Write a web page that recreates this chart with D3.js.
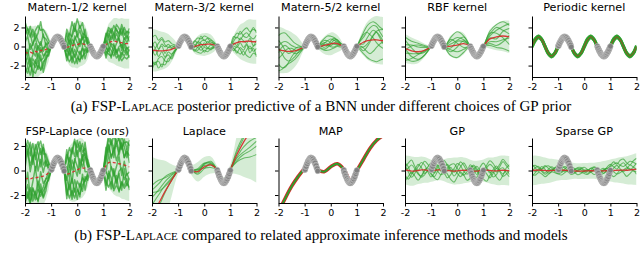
<!DOCTYPE html>
<html>
<head>
<meta charset="utf-8">
<script src="https://cdn.jsdelivr.net/npm/d3@7"></script>
<style>
  body { margin: 0; background: #fff; }
  svg { display: block; }
</style>
</head>
<body>
<svg id="chart"></svg>
<script>
var width = 640,
    height = 257

// x grids the curves are given on
var xFine = [-2,-1.9,-1.8,-1.7,-1.6,-1.5,-1.4,-1.3,-1.2,-1.1,-1,-0.9,-0.8,-0.7,-0.6,-0.5,-0.4,-0.3,-0.2,-0.1,0,0.1,0.2,0.3,0.4,0.5,0.6,0.7,0.8,0.9,1,1.1,1.2,1.3,1.4,1.5,1.6,1.7,1.8,1.9,2]
var xMid = [-2,-1.875,-1.75,-1.625,-1.5,-1.375,-1.25,-1.125,-1,-0.875,-0.75,-0.625,-0.5,-0.375,-0.25,-0.125,0,0.125,0.25,0.375,0.5,0.625,0.75,0.875,1,1.125,1.25,1.375,1.5,1.625,1.75,1.875,2]
var xCoarse = [-2,-1.75,-1.5,-1.25,-1,-0.75,-0.5,-0.25,0,0.25,0.5,0.75,1,1.25,1.5,1.75,2]

// training data (gray)
var dataX = [-1,-0.98,-0.96,-0.94,-0.92,-0.9,-0.88,-0.86,-0.84,-0.82,-0.8,-0.78,-0.76,-0.74,-0.72,-0.7,-0.68,-0.66,-0.64,-0.62,-0.6,-0.58,-0.56,-0.54,-0.52,-0.5,
             0.5,0.52,0.54,0.56,0.58,0.6,0.62,0.64,0.66,0.68,0.7,0.72,0.74,0.76,0.78,0.8,0.82,0.84,0.86,0.88,0.9,0.92,0.94,0.96,0.98,1]
var dataY = [0.05,0.08,0.3,0.33,0.52,0.55,0.72,0.74,0.88,0.86,1.0,0.93,1.05,0.95,1.02,0.9,0.95,0.8,0.8,0.65,0.62,0.44,0.4,0.2,0.16,-0.04,
             0.03,-0.15,-0.22,-0.4,-0.46,-0.6,-0.66,-0.8,-0.82,-0.93,-0.92,-1.02,-0.97,-1.04,-0.96,-0.97,-0.88,-0.86,-0.74,-0.7,-0.56,-0.5,-0.34,-0.27,-0.1,0.02]

var titlesTop = ["Matern-1/2 kernel", "Matern-3/2 kernel", "Matern-5/2 kernel", "RBF kernel", "Periodic kernel"]
var titlesBottom = ["FSP-Laplace (ours)", "Laplace", "MAP", "GP", "Sparse GP"]
var xTicks = [-2, -1, 0, 1, 2]
var yTicks = [-2, 0, 2]

// ---- Matern-1/2 ----
var m12Mean = [-0.6,-0.7,-0.6,-0.7,-0.5,-0.6,-0.4,-0.5,-0.3,-0.2, 0,0.55,0.9,0.9,0.55,0, -0.1,0,0.1,0.2,0.2,0.3,0.3,0.2,0.1, 0,-0.55,-0.9,-0.9,-0.55,0, 0.2,0.4,0.5,0.6,0.5,0.4,0.4,0.3,0.3,0.3]
var m12Band = [2.8,2.8,2.8,2.8,2.7,2.6,2.5,2.3,2.0,1.4, 0.3,0.3,0.3,0.3,0.3,0.3, 1.4,2.0,2.3,2.4,2.5,2.4,2.3,2.0,1.4, 0.3,0.3,0.3,0.3,0.3,0.3, 1.4,2.0,2.2,2.4,2.5,2.5,2.6,2.6,2.6,2.6]
var m12Samples = [
  [2.5,1.9,2.7,1.7,2.2,2.8,2.1,2.3,1.6,0.9, 0,0.1,0,-0.1,0,0, 0.7,1.4,0.9,1.7,1.2,1.9,1.1,1.0,0.4, 0,-0.1,0,0.1,0,0, 0.8,1.3,0.9,1.6,1.2,1.0,1.5,0.9,1.3,1.1],
  [-1.6,-2.1,-1.2,-1.9,-2.3,-1.4,-2.0,-1.1,-1.0,-0.6, 0,0,0.1,0,-0.1,0, -0.9,-1.6,-1.2,-2.0,-1.4,-1.7,-1.3,-0.9,-0.5, 0,0,-0.1,0,0.1,0, -0.7,-1.2,-1.5,-1.0,-1.7,-1.3,-1.9,-1.4,-1.6,-1.2],
  [0.6,-0.3,0.9,0.2,-0.5,0.7,-0.2,0.4,0.3,-0.2, 0.1,0,0,0.1,0,0, 0.3,-0.4,0.7,0.1,-0.6,0.5,-0.2,0.5,0.1, 0,0.1,0,0,-0.1,0, 0.4,-0.3,0.7,0.0,0.9,0.3,-0.5,0.6,0.1,0.8],
  [-0.7,0.4,-1.1,-0.2,0.8,-0.9,0.3,-0.5,-0.4,0.2, 0,0,-0.1,0,0,0.1, -0.4,0.6,-0.8,0.9,0.2,-0.3,1.0,-0.2,-0.3, 0,0,0,0.1,0,0, -0.5,0.6,-0.4,-1.0,-0.2,0.5,-0.8,0.2,-0.6,-0.3],
  [3.2,2.4,1.6,2.5,1.3,2.0,3.0,1.5,1.1,0.5, 0,0.1,0,0,0,0, 1.9,1.0,2.5,1.4,2.7,1.6,2.2,0.8,0.8, 0,0,0,0,0,0, 1.2,0.6,1.4,0.7,1.8,1.5,0.8,1.7,1.0,1.6],
  [-2.3,-1.4,-2.4,-1.0,-1.7,-0.9,-2.1,-1.5,-0.6,-0.8, 0,0,0,0,0,0, -1.4,-0.5,-1.8,-1.0,-2.0,-0.8,-1.6,-0.4,-0.7, 0,0,0,0,0,0, -1.1,-0.4,-0.9,-1.6,-0.8,-1.9,-1.0,-1.3,-0.7,-1.5],
  [1.0,1.8,0.3,1.0,1.4,0.2,0.9,0.0,0.7,0.1, 0,0,0.1,0,0,0, 0.2,0.9,0.1,0.5,1.1,0.0,0.6,0.8,0.2, 0,0,0,-0.1,0,0, 0.3,1.0,0.2,0.8,0.1,0.6,1.2,0.4,0.9,0.2],
  [-1.1,-0.4,-1.5,-0.6,-1.3,-0.1,-1.1,-0.7,-0.2,-0.4, 0,0,0,0,0,0, -0.2,-0.9,-0.3,-1.3,-0.6,-1.1,-0.5,-0.7,-0.2, 0,0,0,0,0,0, -0.3,-0.9,-0.2,-0.5,-1.1,-0.4,-0.2,-0.9,-0.4,-0.8],
  [1.8,2.6,2.0,0.8,1.9,1.2,0.5,1.8,0.4,0.6, 0,0,0,0,0,0, 1.5,0.3,1.2,2.2,0.8,1.4,0.4,1.6,0.2, 0,0,0,0,0,0, 0.9,1.6,1.1,0.3,1.4,0.7,1.9,1.2,0.5,1.3],
  [-0.2,-1.3,-0.6,-2.5,-0.9,-1.8,-0.5,-2.2,-1.2,-0.1, 0,0,0,0,0,0, -1.0,-0.2,-1.4,-0.5,-1.2,-1.9,-0.3,-1.5,-0.4, 0,0,0,0,0,0, -1.4,-0.6,-1.7,-0.3,-1.3,-0.6,-1.5,-0.1,-1.2,-0.6]
]

// ---- Matern-3/2 ----
var m32Mean = [-0.4,-0.42,-0.45,-0.45,-0.42,-0.38,-0.3,-0.15, 0,0.7,1.0,0.7,0, 0.0,0.1,0.2,0.2,0.25,0.25,0.15, 0,-0.7,-1.0,-0.7,0, 0.25,0.4,0.5,0.5,0.55,0.55,0.5,0.5]
var m32Band = [2.2,2.2,2.1,2.0,1.9,1.7,1.3,0.8, 0.12,0.12,0.12,0.12,0.12, 0.7,1.0,1.15,1.2,1.15,1.0,0.7, 0.12,0.12,0.12,0.12,0.12, 0.9,1.4,1.8,2.0,2.2,2.3,2.3,2.3]
var m32Samples = [
  [1.3,1.6,1.1,1.4,0.9,1.0,0.6,0.3, 0,0,0,0,0, 0.5,0.8,0.6,0.9,0.7,0.5,0.3, 0,0,0,0,0, 0.6,1.0,0.8,1.2,1.4,1.0,1.3,1.1],
  [-1.6,-1.2,-1.8,-1.4,-1.5,-0.9,-0.8,-0.4, 0,0,0,0,0, -0.4,-0.7,-0.9,-0.6,-0.8,-0.5,-0.3, 0,0,0,0,0, -0.5,-0.9,-1.3,-1.0,-1.5,-1.7,-1.2,-1.4],
  [0.5,0.9,0.2,0.7,0.4,0.6,0.2,0.2, 0,0,0,0,0, 0.2,-0.2,0.3,0.5,0.1,0.4,0.1, 0,0,0,0,0, 0.3,0.6,0.2,0.7,0.9,0.5,0.3,0.7],
  [-0.4,0.2,-0.6,-0.1,-0.7,-0.2,-0.5,-0.2, 0,0,0,0,0, -0.1,0.3,-0.3,0.2,-0.4,-0.1,-0.2, 0,0,0,0,0, -0.2,-0.5,-0.1,-0.6,-0.3,-0.8,-0.5,-0.2],
  [0.9,0.3,0.8,1.2,0.6,0.3,0.4,0.1, 0,0,0,0,0, 0.6,0.3,0.9,0.4,0.6,0.2,0.2, 0,0,0,0,0, 0.8,0.5,1.1,0.6,0.4,0.8,1.5,0.9],
  [-1.0,-1.5,-0.8,-0.6,-1.1,-1.2,-0.6,-0.3, 0,0,0,0,0, -0.3,-0.5,-0.2,-0.8,-0.4,-0.6,-0.2, 0,0,0,0,0, -0.7,-0.4,-0.8,-1.4,-0.9,-0.5,-1.0,-0.7],
  [0.2,-0.5,0.1,0.5,-0.3,0.3,0.1,0.0, 0,0,0,0,0, 0.0,0.4,0.1,-0.2,0.3,0.0,0.1, 0,0,0,0,0, 0.1,-0.3,0.4,0.1,-0.2,0.3,-0.4,0.2],
  [-2.0,-1.3,-1.1,-1.7,-0.8,-0.5,-1.0,-0.4, 0,0,0,0,0, -0.5,-0.2,-0.6,-0.3,-0.5,-0.4,-0.2, 0,0,0,0,0, -0.4,-1.1,-0.6,-0.9,-0.4,-1.2,-0.7,-1.6]
]

// ---- Matern-5/2 ----
var m52Mean = [-0.35,-0.4,-0.48,-0.52,-0.5,-0.45,-0.35,-0.2, 0,0.7,1.0,0.7,0, 0.05,0.12,0.2,0.28,0.35,0.3,0.15, 0,-0.7,-1.0,-0.7,0, 0.25,0.45,0.6,0.65,0.7,0.7,0.65,0.6]
var m52Band = [2.4,2.4,2.3,2.2,2.0,1.7,1.3,0.7, 0.12,0.12,0.12,0.12,0.12, 0.6,0.9,1.1,1.2,1.1,0.9,0.6, 0.12,0.12,0.12,0.12,0.12, 0.8,1.4,1.9,2.2,2.4,2.5,2.5,2.5]
var m52Samples = [
  [1.5,1.8,1.9,1.6,1.2,0.8,0.5,0.2, 0,0,0,0,0, 0.4,0.7,0.9,0.8,0.6,0.4,0.2, 0,0,0,0,0, 0.5,1.0,1.5,1.8,1.9,1.7,1.4,1.2],
  [-2.2,-2.0,-1.6,-1.3,-1.1,-0.9,-0.6,-0.3, 0,0,0,0,0, -0.3,-0.5,-0.6,-0.6,-0.5,-0.3,-0.2, 0,0,0,0,0, -0.6,-1.2,-1.7,-2.0,-2.2,-2.3,-2.1,-1.9],
  [0.4,0.8,1.0,0.9,0.6,0.4,0.2,0.1, 0,0,0,0,0, 0.2,0.1,-0.1,-0.2,0.0,0.2,0.1, 0,0,0,0,0, -0.3,-0.5,-0.4,0.0,0.5,0.9,1.1,1.2],
  [-0.9,-0.5,0.0,0.3,0.3,0.1,-0.1,-0.1, 0,0,0,0,0, -0.1,0.2,0.4,0.5,0.3,0.1,0.0, 0,0,0,0,0, 0.4,0.8,0.9,0.6,0.2,-0.3,-0.6,-0.8],
  [0.2,-0.3,-0.8,-1.0,-0.9,-0.6,-0.3,-0.1, 0,0,0,0,0, 0.3,0.5,0.4,0.1,-0.1,-0.1,0.0, 0,0,0,0,0, -0.2,-0.6,-1.1,-1.4,-1.2,-0.8,-0.4,-0.1],
  [1.0,0.6,0.1,-0.2,-0.1,0.2,0.3,0.2, 0,0,0,0,0, -0.2,-0.4,-0.3,0.0,0.3,0.4,0.2, 0,0,0,0,0, 0.3,0.5,0.9,1.3,1.5,1.4,0.9,0.4],
  [-1.5,-1.8,-1.7,-1.2,-0.6,-0.2,0.0,0.0, 0,0,0,0,0, 0.0,-0.2,-0.1,0.3,0.5,0.3,0.1, 0,0,0,0,0, 0.0,-0.2,0.2,0.7,1.0,0.8,0.3,-0.3],
  [-0.3,0.3,0.6,0.4,0.0,-0.3,-0.3,-0.2, 0,0,0,0,0, 0.1,0.3,0.1,-0.3,-0.4,-0.2,-0.1, 0,0,0,0,0, -0.4,-0.9,-0.7,-0.2,0.4,0.8,0.5,0.0]
]

// ---- RBF ----
var rbfMean = [-0.2,-0.45,-0.55,-0.4, 0,1.0,0, 0.05,0.15,0.3, 0,-1.0,0, 0.8,1.0,1.1,1.0]
var rbfBand = [1.5,1.4,1.2,0.7, 0.1,0.1,0.1, 1.1,1.4,1.1, 0.1,0.1,0.1, 1.0,1.4,1.6,1.7]
var rbfSamples = [
  [1.2,1.0,0.9,0.5, 0,0,0, 0.9,1.4,0.8, 0,0,0, 0.8,1.3,1.5,1.2],
  [-1.0,-1.1,-0.9,-0.5, 0,0,0, -1.0,-1.3,-0.9, 0,0,0, -0.7,-1.1,-1.3,-1.5],
  [0.4,0.6,0.5,0.3, 0,0,0, 0.5,0.8,0.4, 0,0,0, 0.3,0.7,1.0,1.4],
  [-0.5,-0.3,-0.2,-0.1, 0,0,0, -0.4,-0.7,-0.6, 0,0,0, -0.3,-0.5,-0.4,-0.1],
  [0.9,0.3,-0.2,-0.2, 0,0,0, 0.2,0.5,0.7, 0,0,0, 0.6,0.4,-0.2,-0.8],
  [-0.2,0.5,0.7,0.4, 0,0,0, -0.6,-0.2,0.3, 0,0,0, -0.5,-0.9,-0.6,0.2],
  [0.0,-0.6,-0.8,-0.5, 0,0,0, 0.7,0.2,-0.4, 0,0,0, 0.5,1.0,0.6,0.3],
  [-1.3,-0.8,-0.3,0.0, 0,0,0, -0.2,0.4,0.2, 0,0,0, 0.1,-0.2,0.5,0.9]
]

// ---- Periodic ----
var perMean = [0,0.7,1.0,0.7,0,-0.7,-1.0,-0.7, 0,0.7,1.0,0.7,0,-0.7,-1.0,-0.7, 0,0.7,1.0,0.7,0,-0.7,-1.0,-0.7, 0,0.7,1.0,0.7,0,-0.7,-1.0,-0.7, 0]
var perBand = [0.25,0.25,0.25,0.25,0.25,0.25,0.25,0.25,0.25,0.25,0.25,0.25,0.25,0.25,0.25,0.25,0.25,0.25,0.25,0.25,0.25,0.25,0.25,0.25,0.25,0.25,0.25,0.25,0.25,0.25,0.25,0.25,0.25]
var perSamples = [
  [0.06,0.09,0.1,0.07,0.04,0.02,0.01,0.03, 0.06,0.09,0.1,0.07,0.04,0.02,0.01,0.03, 0.06,0.09,0.1,0.07,0.04,0.02,0.01,0.03, 0.06,0.09,0.1,0.07,0.04,0.02,0.01,0.03, 0.06],
  [-0.04,-0.02,0.0,-0.03,-0.06,-0.08,-0.09,-0.07, -0.04,-0.02,0.0,-0.03,-0.06,-0.08,-0.09,-0.07, -0.04,-0.02,0.0,-0.03,-0.06,-0.08,-0.09,-0.07, -0.04,-0.02,0.0,-0.03,-0.06,-0.08,-0.09,-0.07, -0.04],
  [0.1,0.12,0.08,0.03,-0.02,-0.05,-0.04,0.03, 0.1,0.12,0.08,0.03,-0.02,-0.05,-0.04,0.03, 0.1,0.12,0.08,0.03,-0.02,-0.05,-0.04,0.03, 0.1,0.12,0.08,0.03,-0.02,-0.05,-0.04,0.03, 0.1],
  [-0.08,-0.1,-0.07,-0.02,0.03,0.06,0.05,-0.02, -0.08,-0.1,-0.07,-0.02,0.03,0.06,0.05,-0.02, -0.08,-0.1,-0.07,-0.02,0.03,0.06,0.05,-0.02, -0.08,-0.1,-0.07,-0.02,0.03,0.06,0.05,-0.02, -0.08]
]

// ---- FSP-Laplace ----
var fspMean = [-0.7,-0.65,-0.7,-0.6,-0.6,-0.55,-0.5,-0.45,-0.35,-0.2, 0,0.55,0.9,0.9,0.55,0, -0.3,-0.25,-0.15,-0.05,0.05,0.15,0.2,0.2,0.1, 0,-0.55,-0.9,-0.9,-0.55,0, 0.4,0.65,0.7,0.65,0.6,0.55,0.5,0.45,0.35,0.3]
var fspBand = [2.8,2.8,2.8,2.8,2.8,2.7,2.6,2.4,2.0,1.4, 0.3,0.3,0.3,0.3,0.3,0.3, 1.6,2.2,2.4,2.5,2.5,2.5,2.4,2.1,1.4, 0.3,0.3,0.3,0.3,0.3,0.3, 1.5,2.1,2.4,2.6,2.7,2.7,2.8,2.8,2.8,2.8]
var fspSamples = [
  [2.8,2.0,3.0,1.6,2.4,2.9,1.8,2.3,1.4,0.8, 0,0.1,0,-0.1,0,0.05, 1.2,2.1,1.5,2.4,1.8,2.2,1.3,1.6,0.6, 0,-0.1,0,0.1,0,0, 1.0,1.9,1.4,2.2,1.6,2.1,1.3,1.8,2.0,1.7],
  [-1.7,-1.1,-1.9,-1.3,-1.8,-1.0,-1.6,-1.2,-0.9,-0.5, 0,0,0.1,0,-0.1,0, -1.2,-2.0,-1.5,-2.2,-1.6,-2.1,-1.4,-1.0,-0.5, 0,0,-0.1,0,0.1,0, -1.3,-2.0,-1.6,-2.3,-1.8,-2.2,-1.5,-1.9,-1.4,-1.7],
  [0.9,2.2,1.1,1.8,0.6,1.5,2.3,0.9,1.2,0.4, 0.1,0,0,0.1,0,0, 0.6,-0.3,1.0,0.3,-0.5,0.8,0.1,0.9,0.2, 0,0.1,0,0,-0.1,0, 0.5,1.4,0.4,1.0,1.6,0.7,1.8,0.6,1.2,0.9],
  [-0.8,0.5,-1.3,-0.3,0.9,-1.1,0.4,-0.6,-0.4,0.1, 0,0,-0.1,0,0,0.1, -0.5,0.7,-0.9,1.0,0.3,-0.4,1.1,-0.3,-0.2, 0,0,0,0.1,0,0, -0.6,0.7,-0.5,-1.1,-0.3,0.6,-0.9,0.3,-0.7,-0.4],
  [3.0,2.6,1.9,2.8,1.5,2.5,2.9,1.8,1.7,0.9, 0,0.1,0,0,0,0, 1.6,1.0,2.0,1.2,2.4,1.4,2.0,0.9,0.8, 0,0,0,0,0,0, 1.5,0.8,1.8,1.1,2.3,1.9,1.2,2.1,1.4,2.2],
  [-1.9,-1.4,-2.0,-0.9,-1.5,-1.9,-1.1,-1.7,-0.7,-0.6, 0,0,0,0,0,0, -1.7,-0.9,-2.2,-1.4,-2.4,-1.2,-1.9,-0.7,-0.9, 0,0,0,0,0,0, -1.6,-0.7,-1.3,-2.1,-1.0,-2.3,-1.4,-1.7,-1.0,-1.9],
  [1.5,2.4,0.6,1.6,2.1,0.5,1.4,0.3,1.1,0.3, 0,0,0.1,0,0,0, 0.3,1.3,0.2,0.8,1.6,0.1,0.9,1.2,0.3, 0,0,0,-0.1,0,0, 0.4,1.5,0.3,1.2,0.2,1.0,1.7,0.6,1.4,0.3],
  [-1.2,-0.5,-1.7,-0.8,-1.4,-0.3,-1.3,-0.9,-0.3,-0.4, 0,0,0,0,0,0, -0.4,-1.3,-0.5,-1.7,-0.9,-1.5,-0.8,-1.1,-0.3, 0,0,0,0,0,0, -0.5,-1.3,-0.4,-0.8,-1.6,-0.6,-0.3,-1.2,-0.6,-1.1],
  [2.2,3.1,2.5,1.1,2.7,1.9,0.8,2.6,0.7,0.7, 0,0,0,0,0,0, 2.0,0.5,1.7,2.6,1.1,1.9,0.6,2.1,0.3, 0,0,0,0,0,0, 1.1,2.3,1.6,0.4,1.9,1.0,2.4,1.5,0.7,1.9],
  [-0.3,-1.6,-0.7,-1.9,-1.1,-2.0,-0.6,-1.8,-1.3,-0.2, 0,0,0,0,0,0, -2.0,-0.4,-1.9,-0.7,-1.6,-2.3,-0.5,-1.8,-0.6, 0,0,0,0,0,0, -2.0,-0.9,-2.2,-0.5,-1.7,-0.8,-2.1,-0.3,-1.6,-0.9]
]

// ---- Laplace ----
var lapMean = [-3.6,-2.7,-1.7,-0.8, 0.05,1.0,0.05, -0.1,0.3,0.45, 0.05,-0.85,0.1, 1.3,2.3,3.1,3.8]
var lapBand = [4.7,3.6,2.5,1.3, 0.3,0.3,0.4, 0.8,0.8,0.7, 0.3,0.3,0.4, 1.6,2.8,3.8,4.8]
var lapSamples = [
  [2.0,1.6,1.2,0.6, 0,0,0, 0.2,0.1,0.0, 0,0,0, -0.3,-0.8,-1.2,-1.4],
  [1.4,1.1,0.8,0.4, 0,0,0, -0.1,0.2,0.2, 0,0,0, -0.5,-1.0,-1.5,-1.8],
  [0.8,0.7,0.5,0.2, 0,0,0, 0.15,-0.1,-0.2, 0,0,0, 0.2,0.3,0.5,0.6],
  [1.8,1.0,0.4,0.1, 0,0,0, 0.25,0.3,0.1, 0,0,0, -0.6,-1.3,-2.0,-2.5],
  [-0.5,-0.3,-0.1,0.0, 0,0,0, -0.2,-0.15,0.1, 0,0,0, 0.4,0.5,0.4,0.2],
  [2.4,1.9,1.1,0.5, 0,0,0, 0.05,0.25,0.3, 0,0,0, -0.2,-0.4,-0.7,-1.1]
]

// ---- MAP ----
var mapMean = [-3.4,-2.3,-1.3,-0.5, 0.2,1.0,0.1, -0.1,0.3,0.55, 0.1,-0.8,0.0, 0.9,1.8,2.45,2.85]

// ---- GP ----
var gpMean = [0.05,0.0,-0.05,-0.05,0.0,0.05,0.05,0.0, -0.02,0.0,0.05,0.05,0.02, 0.0,-0.03,-0.05,-0.03,0.0,0.02,0.0, -0.03,-0.05,-0.05,-0.02,0.0, 0.02,0.0,-0.03,-0.03,0.0,0.02,0.0,-0.02]
var gpBand = [1.2,1.2,1.2,1.15,1.1,1.1,1.05,1.0, 0.9,0.85,0.85,0.85,0.9, 1.0,1.05,1.1,1.1,1.1,1.05,1.0, 0.9,0.85,0.85,0.85,0.9, 1.0,1.05,1.1,1.15,1.2,1.2,1.2,1.2]
var gpSamples = [
  [0.6,0.3,-0.2,0.1,0.5,0.2,-0.3,0.0,0.4,0.7,0.3,-0.1,0.2,0.5,0.1,-0.4,-0.1,0.3,0.6,0.2,-0.2,0.1,0.4,0.0,-0.3,0.2,0.5,0.3,-0.1,0.3,0.7,0.4,0.1],
  [-0.4,-0.7,-0.3,0.1,-0.2,-0.6,-0.4,0.0,-0.3,-0.5,-0.1,0.2,-0.2,-0.6,-0.3,0.1,-0.2,-0.5,-0.2,0.1,-0.3,-0.7,-0.5,-0.1,0.1,-0.3,-0.6,-0.2,0.2,-0.1,-0.5,-0.3,0.0],
  [0.2,0.6,0.9,0.4,0.0,0.3,0.7,0.5,0.1,-0.2,0.2,0.6,0.8,0.4,0.0,0.2,0.6,0.4,-0.1,-0.3,0.1,0.5,0.2,-0.2,0.0,0.4,0.8,0.6,0.2,0.5,0.9,0.6,0.3],
  [-0.9,-0.5,-0.1,-0.4,-0.8,-0.5,0.0,0.2,-0.2,-0.6,-0.8,-0.4,0.0,-0.3,-0.7,-0.9,-0.5,-0.1,-0.4,-0.8,-0.6,-0.2,0.1,-0.3,-0.7,-0.9,-0.4,-0.1,-0.5,-0.8,-0.4,0.0,-0.3],
  [0.0,0.2,0.5,0.2,-0.3,-0.5,-0.1,0.3,0.6,0.3,-0.1,-0.4,-0.2,0.2,0.5,0.6,0.2,-0.2,-0.4,-0.1,0.3,0.4,0.0,-0.4,-0.2,0.1,-0.1,-0.5,-0.3,0.1,0.2,-0.2,-0.5],
  [0.4,-0.1,-0.5,-0.2,0.3,0.6,0.4,-0.1,-0.5,-0.2,0.4,0.1,-0.3,0.0,0.3,-0.1,0.3,0.7,0.4,0.0,0.5,0.2,-0.3,0.3,0.6,0.2,-0.2,0.1,0.4,0.0,-0.3,0.2,0.5]
]

// ---- Sparse GP ----
var sgpMean = [0.0,0.02,0.03,0.02,0.0,-0.02,0.0,0.02, 0.03,0.03,0.02,0.0,-0.02, -0.03,-0.05,-0.05,-0.04,-0.03,-0.02,-0.02, -0.02,-0.03,-0.03,-0.02,0.0, 0.0,0.02,0.03,0.03,0.02,0.05,0.08,0.1]
var sgpBand = [1.2,1.2,1.15,1.1,1.05,1.0,0.95,0.9, 0.85,0.8,0.8,0.75,0.7, 0.65,0.65,0.65,0.65,0.65,0.65,0.65, 0.7,0.75,0.8,0.85,0.9, 0.95,1.0,1.05,1.1,1.15,1.2,1.25,1.3]
var sgpSamples = [
  [0.3,0.4,0.2,0.1,0.3,0.4,0.2,0.0,0.1,0.3,0.2,0.0,-0.1,0.1,0.2,0.1,-0.1,0.0,0.2,0.1,-0.1,0.0,0.1,0.2,0.3,0.5,0.6,0.4,0.3,0.5,0.7,0.6,0.4],
  [-0.3,-0.4,-0.2,-0.3,-0.5,-0.3,-0.1,-0.2,-0.3,-0.2,0.0,-0.1,-0.3,-0.2,0.0,-0.1,-0.2,-0.3,-0.1,0.0,-0.2,-0.3,-0.2,0.0,0.1,-0.1,-0.3,-0.2,0.0,0.2,0.1,-0.1,-0.2],
  [0.5,0.2,-0.1,0.1,0.4,0.2,0.0,0.2,0.4,0.1,-0.1,0.1,0.3,0.2,0.0,0.2,0.3,0.1,-0.1,0.1,0.2,0.0,-0.2,0.1,0.4,0.7,0.5,0.8,0.9,0.6,0.4,0.7,0.9],
  [-0.5,-0.2,0.1,-0.1,-0.3,-0.1,0.1,-0.1,-0.3,-0.4,-0.2,0.0,0.1,-0.1,-0.3,-0.2,0.0,0.1,-0.1,-0.3,-0.2,0.1,0.2,-0.1,-0.3,-0.5,-0.3,0.0,-0.2,-0.5,-0.3,-0.1,-0.4],
  [0.1,-0.1,0.0,0.3,0.1,-0.2,-0.1,0.2,0.1,-0.1,0.1,0.3,0.1,-0.1,0.1,0.2,0.0,-0.2,0.0,0.3,0.2,-0.1,0.0,0.3,0.5,0.3,0.1,0.4,0.6,0.3,0.0,0.2,0.5],
  [-0.1,0.2,0.3,0.0,-0.2,0.1,0.3,0.1,-0.1,0.1,0.3,0.2,0.0,0.1,0.3,0.3,0.1,0.0,0.2,0.3,0.1,-0.1,0.1,0.2,-0.1,0.2,0.4,0.1,-0.1,0.1,0.4,0.2,0.0]
]

var green = "#2ca02c",
    red = "#d62728",
    panelLeft = [25, 152, 278.5, 405, 532],
    panelWidth = 104.5,
    rows = [
        { yDomain: [-3.2, 3.2], yRange: [77, 16], titleY: 11, titles: titlesTop },
        { yDomain: [-2.65, 2.65], yRange: [203, 138], titleY: 135, titles: titlesBottom }
    ]

var rough = d3.curveLinear,
    smooth = d3.curveCatmullRom.alpha(0.5)

var panels = [
    { row: 0, col: 0, xs: xFine, mean: m12Mean, band: m12Band, samples: m12Samples, curve: rough, dash: true },
    { row: 0, col: 1, xs: xMid, mean: m32Mean, band: m32Band, samples: m32Samples, curve: smooth },
    { row: 0, col: 2, xs: xMid, mean: m52Mean, band: m52Band, samples: m52Samples, curve: smooth },
    { row: 0, col: 3, xs: xCoarse, mean: rbfMean, band: rbfBand, samples: rbfSamples, curve: smooth },
    { row: 0, col: 4, xs: xMid, mean: perMean, band: perBand, samples: perSamples, curve: smooth, thick: true },
    { row: 1, col: 0, xs: xFine, mean: fspMean, band: fspBand, samples: fspSamples, curve: rough, dash: true },
    { row: 1, col: 1, xs: xCoarse, mean: lapMean, band: lapBand, samples: lapSamples, curve: smooth },
    { row: 1, col: 2, xs: xCoarse, mean: mapMean, band: null, samples: [], curve: smooth, map: true },
    { row: 1, col: 3, xs: xMid, mean: gpMean, band: gpBand, samples: gpSamples, curve: smooth },
    { row: 1, col: 4, xs: xMid, mean: sgpMean, band: sgpBand, samples: sgpSamples, curve: smooth }
]

var svg = d3.select("#chart").attr("width", width).attr("height", height)

panels.forEach(function(p, k) {
    var row = rows[p.row]
    var x = d3.scaleLinear().domain([-2, 2]).range([0, panelWidth])
    var y = d3.scaleLinear().domain(row.yDomain).range(row.yRange)
    var g = svg.append("g").attr("transform", "translate(" + panelLeft[p.col] + ",0)")

    var clipId = "clip" + k
    g.append("clipPath").attr("id", clipId)
        .append("rect")
        .attr("x", 0).attr("y", row.yRange[1])
        .attr("width", panelWidth).attr("height", row.yRange[0] - row.yRange[1])

    var plot = g.append("g").attr("clip-path", "url(#" + clipId + ")")
    var idx = d3.range(p.xs.length)

    if (p.band) {
        var area = d3.area()
            .x(function(i) { return x(p.xs[i]) })
            .y0(function(i) { return y(p.mean[i] - p.band[i]) })
            .y1(function(i) { return y(p.mean[i] + p.band[i]) })
            .curve(p.curve)
        plot.append("path").datum(idx)
            .attr("d", area)
            .attr("fill", green)
            .attr("fill-opacity", 0.2)
    }

    var meanLine = d3.line()
        .x(function(i) { return x(p.xs[i]) })
        .y(function(i) { return y(p.mean[i]) })
        .curve(p.curve)

    var isRough = p.curve === rough
    p.samples.forEach(function(s) {
        var line = d3.line()
            .x(function(i) { return x(p.xs[i]) })
            .y(function(i) { return y(p.mean[i] + s[i]) })
            .curve(p.curve)
        plot.append("path").datum(idx)
            .attr("d", line)
            .attr("fill", "none")
            .attr("stroke", green)
            .attr("stroke-opacity", p.thick ? 0.85 : (isRough ? 0.7 : 0.65))
            .attr("stroke-width", p.thick ? 3 : (isRough ? 1.5 : 1.1))
            .attr("stroke-linejoin", "round")
    })

    if (p.map) {
        plot.append("path").datum(idx).attr("d", meanLine)
            .attr("fill", "none").attr("stroke", red).attr("stroke-width", 3.6)
        plot.append("path").datum(idx).attr("d", meanLine)
            .attr("fill", "none").attr("stroke", green).attr("stroke-width", 1.9)
    } else {
        plot.append("path").datum(idx).attr("d", meanLine)
            .attr("fill", "none")
            .attr("stroke", red)
            .attr("stroke-width", p.thick ? 1 : 1.3)
            .attr("stroke-opacity", p.thick ? 0.7 : 0.9)
            .attr("stroke-dasharray", p.dash ? "3,2.5" : null)
    }

    // training points
    plot.selectAll("circle.pt")
        .data(dataX)
        .enter().append("circle")
        .attr("class", "pt")
        .attr("cx", function(d) { return x(d) })
        .attr("cy", function(d, i) { return y(dataY[i]) })
        .attr("r", 2.8)
        .attr("fill", "#7f7f7f")
        .attr("stroke", "#d0d0d0")
        .attr("stroke-width", 0.5)

    // axes
    var xAxis = d3.axisBottom(x).tickValues(xTicks).tickSize(3.5).tickSizeOuter(0)
        .tickFormat(function(d) { return String(d) })
    var gx = g.append("g").attr("transform", "translate(0," + row.yRange[0] + ")").call(xAxis)

    var yAxis = d3.axisLeft(y).tickValues(yTicks).tickSize(3.5).tickSizeOuter(0)
        .tickFormat(function(d) { return p.col === 0 ? String(d) : "" })
    var gy = g.append("g").call(yAxis)

    ;[gx, gy].forEach(function(ax) {
        ax.attr("font-family", "'DejaVu Sans', sans-serif").attr("font-size", 9.5)
        ax.select(".domain").attr("stroke", "#000").attr("stroke-width", 1)
        ax.selectAll(".tick line").attr("stroke", "#000").attr("stroke-width", 1)
        ax.selectAll(".tick text").attr("fill", "#000")
    })
    gy.selectAll(".tick text").attr("x", -5.5)
    gx.selectAll(".tick text").attr("y", 6.5)

    g.append("text")
        .attr("x", panelWidth / 2)
        .attr("y", row.titleY)
        .attr("text-anchor", "middle")
        .attr("font-family", "'DejaVu Sans', sans-serif")
        .attr("font-size", 11.2)
        .text(row.titles[p.col])
})

// captions
var captions = [
    { y: 111, before: "(a) FSP-", after: " posterior predictive of a BNN under different choices of GP prior" },
    { y: 240, before: "(b) FSP-", after: " compared to related approximate inference methods and models" }
]
var capNodes = captions.map(function(c) {
    var t = svg.append("text")
        .attr("x", 321).attr("y", c.y)
        .attr("text-anchor", "middle")
        .attr("font-family", "'Liberation Serif', 'Times New Roman', serif")
        .attr("font-size", 12)
    t.append("tspan").text(c.before)
    t.append("tspan").style("font-variant", "small-caps").text("Laplace")
    t.append("tspan").text(c.after)
    return t
})
var len = capNodes[0].node().getComputedTextLength()
var size = 12 * 497 / len
capNodes.forEach(function(t) { t.attr("font-size", size) })
</script>
</body>
</html>
